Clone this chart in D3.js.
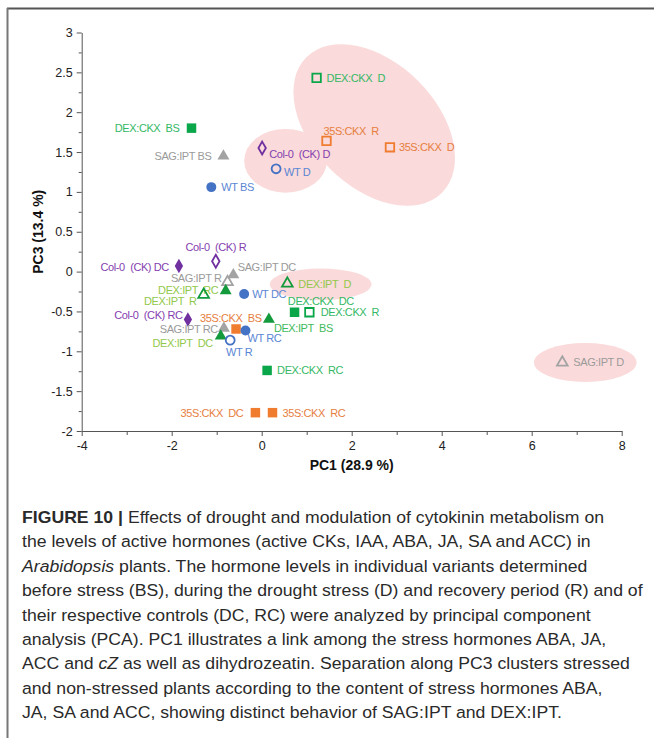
<!DOCTYPE html>
<html>
<head>
<meta charset="utf-8">
<script src="https://cdn.jsdelivr.net/npm/d3@7"></script>
<style>
  html, body { margin: 0; padding: 0; background: #fff; }
  svg { display: block; }
  .pt-label { white-space: pre; }
</style>
</head>
<body>
<svg id="fig" width="654" height="738"></svg>
<script>
// ---- PCA scores (PC1 vs PC3) for each genotype / sampling point ----
const sampleNames = [
  "DEX:CKX  D", "35S:CKX  R", "35S:CKX  D", "Col-0  (CK) D", "WT D",
  "DEX:CKX  BS", "SAG:IPT BS", "WT BS", "Col-0  (CK) R", "Col-0  (CK) DC",
  "SAG:IPT DC", "SAG:IPT R", "DEX:IPT  RC", "DEX:IPT  R", "WT DC",
  "DEX:IPT  D", "DEX:CKX  DC", "DEX:CKX  R", "Col-0  (CK) RC", "35S:CKX  BS",
  "DEX:IPT  BS", "SAG:IPT RC", "WT RC", "DEX:IPT  DC", "WT R",
  "DEX:CKX  RC", "35S:CKX  DC", "35S:CKX  RC", "SAG:IPT D"
];
const genotypes = [
  "DEX:CKX", "35S:CKX", "35S:CKX", "Col-0", "WT",
  "DEX:CKX", "SAG:IPT", "WT", "Col-0", "Col-0",
  "SAG:IPT", "SAG:IPT", "DEX:IPT", "DEX:IPT", "WT",
  "DEX:IPT", "DEX:CKX", "DEX:CKX", "Col-0", "35S:CKX",
  "DEX:IPT", "SAG:IPT", "WT", "DEX:IPT", "WT",
  "DEX:CKX", "35S:CKX", "35S:CKX", "SAG:IPT"
];
const phases = [
  "D", "R", "D", "D", "D",
  "BS", "BS", "BS", "R", "DC",
  "DC", "R", "RC", "R", "DC",
  "D", "DC", "R", "RC", "BS",
  "BS", "RC", "RC", "DC", "R",
  "RC", "DC", "RC", "D"
];
const pc1Scores = [
  1.22, 1.44, 2.85, 0.01, 0.32,
  -1.56, -0.85, -1.12, -1.02, -1.84,
  -0.63, -0.76, -0.80, -1.29, -0.39,
  0.57, 0.73, 1.06, -1.64, -0.57,
  0.16, -0.84, -0.36, -0.91, -0.70,
  0.12, -0.14, 0.24, 6.68
];
const pc3Scores = [
  2.43, 1.64, 1.56, 1.55, 1.29,
  1.80, 1.45, 1.06, 0.13, 0.07,
  -0.04, -0.13, -0.24, -0.29, -0.28,
  -0.15, -0.51, -0.51, -0.60, -0.72,
  -0.60, -0.71, -0.74, -0.81, -0.86,
  -1.24, -1.77, -1.77, -1.14
];

// Highlighted clusters: centre and semi-axes in PC units, tilt in degrees
const clusterCx = [0.53, 2.50, 1.31, 7.19];
const clusterCy = [1.39, 1.84, -0.16, -1.14];
const clusterRx = [0.92, 2.13, 1.13, 1.14];
const clusterRy = [0.40, 0.78, 0.20, 0.245];
const clusterTilt = [0, 45, 0, 0];

// Axis ticks
const xTicks = [-4, -2, 0, 2, 4, 6, 8];
const xMinorTicks = [-3, -1, 1, 3, 5, 7];
const yTicks = [-2, -1.5, -1, -0.5, 0, 0.5, 1, 1.5, 2, 2.5, 3];
const yMinorTicks = [-1.75, -1.25, -0.75, -0.25, 0.25, 0.75, 1.25, 1.75, 2.25, 2.75];

const captionLines = [
  [["FIGURE 10 | ", "b"], ["Effects of drought and modulation of cytokinin metabolism on", ""]],
  [["the levels of active hormones (active CKs, IAA, ABA, JA, SA and ACC) in", ""]],
  [["Arabidopsis", "i"], [" plants. The hormone levels in individual variants determined", ""]],
  [["before stress (BS), during the drought stress (D) and recovery period (R) and of", ""]],
  [["their respective controls (DC, RC) were analyzed by principal component", ""]],
  [["analysis (PCA). PC1 illustrates a link among the stress hormones ABA, JA,", ""]],
  [["ACC and ", ""], ["cZ", "i"], [" as well as dihydrozeatin. Separation along PC3 clusters stressed", ""]],
  [["and non-stressed plants according to the content of stress hormones ABA,", ""]],
  [["JA, SA and ACC, showing distinct behavior of SAG:IPT and DEX:IPT.", ""]]
];

// ---- styling ----
const markerStyle = {
  "DEX:CKX": { shape: "square",   color: "#0aa64a", text: "#35b865" },
  "35S:CKX": { shape: "square",   color: "#f07c30", text: "#e67e3e" },
  "Col-0":   { shape: "diamond",  color: "#7030a0", text: "#8440b0" },
  "WT":      { shape: "circle",   color: "#4472c4", text: "#5a86d4" },
  "SAG:IPT": { shape: "triangle", color: "#a3a3a3", text: "#9a9a9a" },
  "DEX:IPT": { shape: "triangle", color: "#129a3c", text: "#92c84a" }
};
// label placement: [dx, dy, anchor] relative to the marker, in px
const labelPlacement = [
  [10, 0, "start"], [-3, -10, "start"], [9, 0, "start"], [7, 5.6, "start"], [8, 3.7, "start"],
  [-12, 0, "end"], [-12, 0, "end"], [10, 0, "start"], [0, -14.3, "middle"], [-10, 1, "end"],
  [4.4, -7.6, "start"], [-6, -3.6, "end"], [-7.4, -0.4, "end"], [-7, 6.8, "end"], [8, 0.3, "start"],
  [11, 0, "start"], [-6.7, -11, "start"], [11.4, 0, "start"], [-5.3, -4.7, "end"], [-5.2, -11, "middle"],
  [5, 8.4, "start"], [-6, 1.3, "end"], [2, 7, "start"], [-8, 6.4, "end"], [9, 12, "middle"],
  [10, 0, "start"], [-12, 0, "end"], [10, 0, "start"], [11, 0, "start"]
];
const labelColorOverride = { 20: "#3fba5c" };

const svg = d3.select("#fig");

// panel frame (top and left rules)
svg.append("line").attr("x1", 7).attr("x2", 654).attr("y1", 8.5).attr("y2", 8.5)
  .attr("stroke", "#555").attr("stroke-width", 2);
svg.append("line").attr("x1", 7.5).attr("x2", 7.5).attr("y1", 8).attr("y2", 738)
  .attr("stroke", "#777").attr("stroke-width", 2);

const x = d3.scaleLinear().domain([-4, 8]).range([81.7, 621.7]);
const y = d3.scaleLinear().domain([-2, 3]).range([431, 32.5]);

// cluster ellipses
const ellipseG = svg.append("g");
clusterCx.forEach((cx, i) => {
  const rxPx = x(clusterRx[i]) - x(0);
  const ryPx = y(0) - y(clusterRy[i]);
  ellipseG.append("ellipse")
    .attr("transform", `translate(${x(cx)},${y(clusterCy[i])}) rotate(${clusterTilt[i]})`)
    .attr("rx", rxPx).attr("ry", ryPx)
    .attr("fill", "#fadada");
});

// axes
const axisColor = "#555";
const fmt = d => String(d);
const gx = svg.append("g").attr("transform", `translate(0,${y(-2)})`)
  .call(d3.axisBottom(x).tickValues(xTicks).tickFormat(fmt).tickSize(5).tickSizeOuter(0));
svg.append("g").attr("transform", `translate(0,${y(-2)})`)
  .call(d3.axisBottom(x).tickValues(xMinorTicks).tickFormat("").tickSize(4).tickSizeOuter(0))
  .select(".domain").remove();
const gy = svg.append("g").attr("transform", `translate(${x(-4)},0)`)
  .call(d3.axisLeft(y).tickValues(yTicks).tickFormat(fmt).tickSize(5).tickSizeOuter(0));
svg.append("g").attr("transform", `translate(${x(-4)},0)`)
  .call(d3.axisLeft(y).tickValues(yMinorTicks).tickFormat("").tickSize(3).tickSizeOuter(0))
  .select(".domain").remove();
svg.selectAll(".domain, .tick line").attr("stroke", axisColor);
svg.selectAll(".tick text")
  .attr("font-family", "'Liberation Sans', Arial, sans-serif")
  .attr("font-size", 12.5).attr("fill", "#222");
gx.selectAll(".tick text").attr("dy", "0.9em");
gy.selectAll(".tick text").attr("x", -9);

// axis titles
svg.append("text").attr("x", x(2)).attr("y", 470)
  .attr("text-anchor", "middle")
  .attr("font-family", "'Liberation Sans', Arial, sans-serif")
  .attr("font-size", 14).attr("font-weight", "bold").attr("fill", "#111")
  .text("PC1 (28.9 %)");
svg.append("text")
  .attr("transform", `translate(43,${(y(-2) + y(3)) / 2}) rotate(-90)`)
  .attr("text-anchor", "middle")
  .attr("font-family", "'Liberation Sans', Arial, sans-serif")
  .attr("font-size", 14).attr("font-weight", "bold").attr("fill", "#111")
  .text("PC3 (13.4 %)");

// markers
const openPhases = new Set(["D", "R"]);
const symbolType = {
  square: d3.symbolSquare, diamond: d3.symbolDiamond,
  circle: d3.symbolCircle, triangle: d3.symbolTriangle
};
const symbolArea = { square: 90, diamond: 60, circle: 78, triangle: 62 };
const ptG = svg.append("g");
sampleNames.forEach((name, i) => {
  const st = markerStyle[genotypes[i]];
  const open = openPhases.has(phases[i]);
  const px = x(pc1Scores[i]), py = y(pc3Scores[i]);
  const area = open ? symbolArea[st.shape] * 0.8 : symbolArea[st.shape];
  ptG.append("path")
    .attr("d", d3.symbol().type(symbolType[st.shape]).size(area)())
    .attr("transform", `translate(${px},${py})`)
    .attr("fill", open ? "none" : st.color)
    .attr("stroke", open ? st.color : "none")
    .attr("stroke-width", open ? 1.8 : 0);
  const [dx, dy, anchor] = labelPlacement[i];
  ptG.append("text").attr("class", "pt-label")
    .attr("x", px + dx).attr("y", py + dy).attr("dy", "0.36em")
    .attr("text-anchor", anchor)
    .attr("font-family", "'Liberation Sans', Arial, sans-serif")
    .attr("font-size", 11).attr("letter-spacing", "-0.4px")
    .attr("fill", labelColorOverride[i] || st.text)
    .text(name);
});

// caption
const cap = svg.append("g");
const capTexts = captionLines.map((parts, li) => {
  const t = cap.append("text").attr("x", 0).attr("y", 523 + li * 24.4)
    .attr("font-family", "'Liberation Sans', Arial, sans-serif")
    .attr("font-size", 17.3).attr("fill", "#2a2a2a").style("white-space", "pre");
  parts.forEach(([s, f]) => {
    t.append("tspan").text(s)
      .attr("font-weight", f === "b" ? "bold" : null)
      .attr("font-style", f === "i" ? "italic" : null);
  });
  return t;
});
const widest = capTexts[3].node().getComputedTextLength();
const sx = 620 / widest;
cap.attr("transform", `translate(22,0) scale(${sx},1)`);
</script>
</body>
</html>
